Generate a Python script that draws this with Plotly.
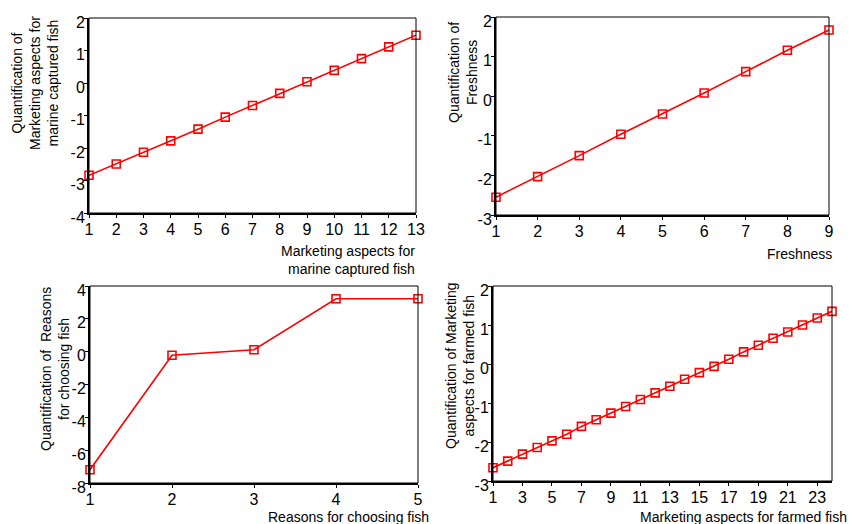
import plotly.graph_objects as go

W, H = 851, 524

# ---- data ----
marine_x = list(range(1, 14))
marine_y = [-2.84, -2.49, -2.13, -1.78, -1.42, -1.05, -0.69, -0.32, 0.04, 0.39, 0.75, 1.11, 1.47]

fresh_x = list(range(1, 10))
fresh_y = [-2.55, -2.03, -1.50, -0.96, -0.45, 0.08, 0.62, 1.16, 1.67]

reason_x = [1, 2, 3, 4, 5]
reason_y = [-7.19, -0.22, 0.12, 3.22, 3.22]

farmed_x = list(range(1, 25))
farmed_y = [-2.66, -2.49, -2.31, -2.14, -1.97, -1.80, -1.60, -1.43, -1.26, -1.09,
            -0.91, -0.74, -0.57, -0.39, -0.22, -0.06, 0.12, 0.31, 0.48, 0.66,
            0.82, 1.00, 1.18, 1.35]

# tick labels
marine_yticks = [-4, -3, -2, -1, 0, 1, 2]
fresh_yticks = [-3, -2, -1, 0, 1, 2]
reason_yticks = [-8, -6, -4, -2, 0, 2, 4]
farmed_yticks = [-3, -2, -1, 0, 1, 2]
marine_xticks = list(range(1, 14))
fresh_xticks = list(range(1, 10))
reason_xticks = [1, 2, 3, 4, 5]
farmed_xticks = list(range(1, 24, 2))

y_titles = ["Quantification of<br>Marketing aspects for<br>marine captured fish",
            "Quantification of<br>Freshness",
            "Quantification of  Reasons<br>for choosing fish",
            "Quantification of Marketing<br>aspects for farmed fish"]
x_titles = ["Marketing aspects for<br>marine captured fish",
            "Freshness",
            "Reasons for choosing fish",
            "Marketing aspects for farmed fish"]

# ---- layout (pixels) ----
panels = [
    dict(x0=89, x1=416, y0=18, y1=213, xr=[1, 13], yr=[-4, 2]),
    dict(x0=496, x1=829, y0=17, y1=215, xr=[1, 9], yr=[-3, 2]),
    dict(x0=90, x1=418, y0=286, y1=483, xr=[1, 5], yr=[-8, 4]),
    dict(x0=493, x1=832, y0=286, y1=481, xr=[1, 24], yr=[-3, 2]),
]
ytitle_pos = [(35, 83), (463, 73), (55, 369), (460, 366)]
xtitle_pos = [(417, 241), (834, 244), (431, 507), (849, 507)]

series = [(marine_x, marine_y), (fresh_x, fresh_y), (reason_x, reason_y), (farmed_x, farmed_y)]
xticks = [marine_xticks, fresh_xticks, reason_xticks, farmed_xticks]
yticks = [marine_yticks, fresh_yticks, reason_yticks, farmed_yticks]

FONT = "Liberation Sans, Arial, sans-serif"
fig = go.Figure()
layout = dict(width=W, height=H, margin=dict(l=0, r=0, t=0, b=0, autoexpand=False),
              paper_bgcolor="white", plot_bgcolor="white", showlegend=False,
              font=dict(family=FONT, color="black"))
shapes, annotations = [], []

for i, (p, (xs, ys)) in enumerate(zip(panels, series)):
    n = "" if i == 0 else str(i + 1)
    xa, ya = "xaxis" + n, "yaxis" + n
    layout[xa] = dict(domain=[p["x0"] / W, p["x1"] / W], range=p["xr"], anchor="y" + n,
                      tickmode="array", tickvals=xticks[i], ticktext=[str(v) for v in xticks[i]],
                      showgrid=False, zeroline=False,
                      showline=True, linecolor="black", linewidth=2, automargin=False,
                      ticks="outside", ticklen=3, tickcolor="black", tickwidth=1,
                      ticklabelstandoff=-2,
                      tickfont=dict(size=16, family=FONT, color="black"))
    layout[ya] = dict(domain=[1 - p["y1"] / H, 1 - p["y0"] / H], range=p["yr"], anchor="x" + n,
                      tickmode="array", tickvals=yticks[i], ticktext=[str(v) for v in yticks[i]],
                      showgrid=False, zeroline=False,
                      showline=True, linecolor="black", linewidth=2, automargin=False,
                      ticks="outside", ticklen=3, tickcolor="black", tickwidth=1,
                      ticklabelstandoff=-4, ticklabelshift=4,
                      tickfont=dict(size=16, family=FONT, color="black"))
    shapes.append(dict(type="rect", xref="paper", yref="paper",
                       x0=p["x0"] / W, x1=p["x1"] / W, y0=1 - p["y1"] / H, y1=1 - p["y0"] / H,
                       line=dict(color="black", width=1)))
    fig.add_trace(go.Scatter(x=xs, y=ys, xaxis="x" + n, yaxis="y" + n, mode="lines+markers",
                             line=dict(color="#ff0000", width=1.6),
                             marker=dict(symbol="square-open", size=8, color="#ff0000",
                                         line=dict(width=1.6, color="#ff0000")),
                             cliponaxis=False))
    tx, ty = ytitle_pos[i]
    annotations.append(dict(text=y_titles[i], xref="paper", yref="paper", x=tx / W, y=1 - ty / H,
                            xanchor="center", yanchor="middle", textangle=-90, showarrow=False,
                            align="center", font=dict(size=14, family=FONT, color="black")))
    ax_, ay_ = xtitle_pos[i]
    annotations.append(dict(text=x_titles[i], xref="paper", yref="paper", x=ax_ / W, y=1 - ay_ / H,
                            xanchor="right", yanchor="top", showarrow=False, align="right",
                            font=dict(size=14, family=FONT, color="black")))

layout["shapes"] = shapes
layout["annotations"] = annotations
fig.update_layout(**layout)
fig.write_html("out.html", config={"displayModeBar": False},
               post_script="document.body.style.margin='0';")
